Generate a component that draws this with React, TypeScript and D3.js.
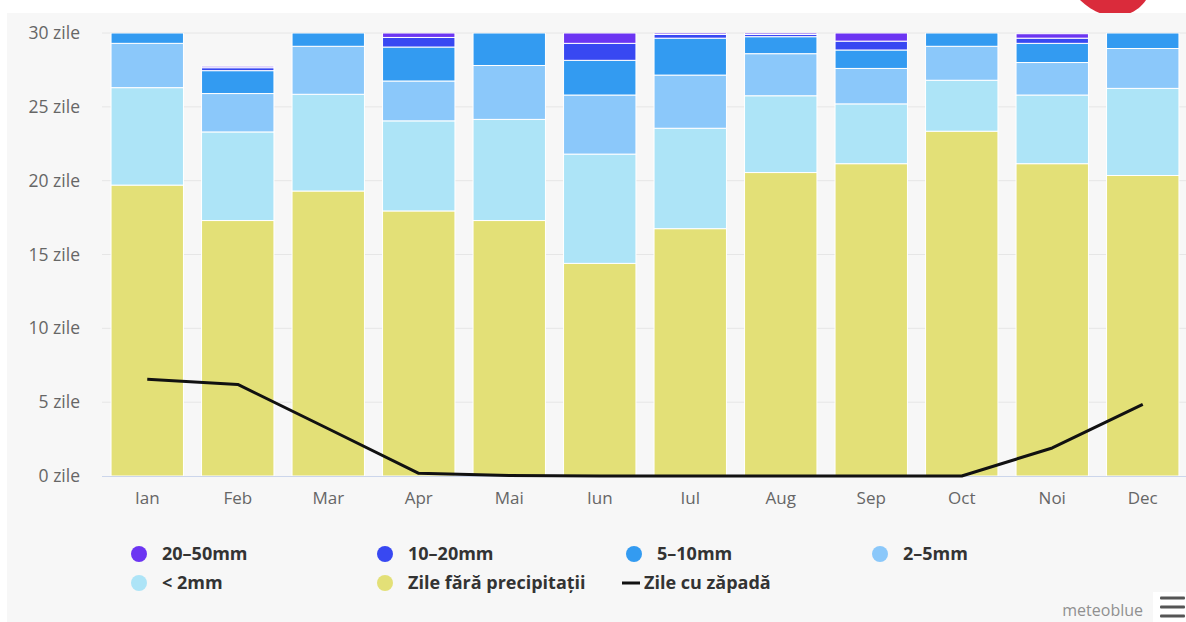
import React, { useEffect, useRef } from "react";
import * as d3 from "d3";

const months = ["Ian", "Feb", "Mar", "Apr", "Mai", "Iun", "Iul", "Aug", "Sep", "Oct", "Noi", "Dec"];

// zile / lună, de jos în sus
const dryDays = [19.7, 17.3, 19.3, 17.95, 17.3, 14.4, 16.75, 20.55, 21.15, 23.35, 21.15, 20.35];
const below2mm = [6.6, 6.0, 6.55, 6.1, 6.85, 7.4, 6.8, 5.2, 4.05, 3.45, 4.65, 5.9];
const mm2to5 = [3.0, 2.6, 3.25, 2.7, 3.65, 4.0, 3.6, 2.85, 2.4, 2.3, 2.2, 2.7];
const mm5to10 = [0.7, 1.55, 0.9, 2.3, 2.2, 2.35, 2.5, 1.15, 1.25, 0.9, 1.3, 1.05];
const mm10to20 = [0, 0.2, 0, 0.65, 0, 1.15, 0.25, 0.15, 0.6, 0, 0.35, 0];
const mm20to50 = [0, 0.1, 0, 0.3, 0, 0.7, 0.1, 0.1, 0.55, 0, 0.3, 0];
const snowDays = [6.55, 6.2, 3.2, 0.18, 0.03, 0, 0, 0, 0, 0, 1.9, 4.85];

const yTicks = [0, 5, 10, 15, 20, 25, 30];

const series = [
  { key: "dry", label: "Zile fără precipitații", color: "#e3e077", values: dryDays },
  { key: "lt2", label: "< 2mm", color: "#ade4f7", values: below2mm },
  { key: "2-5", label: "2–5mm", color: "#8bc8fa", values: mm2to5 },
  { key: "5-10", label: "5–10mm", color: "#339bf1", values: mm5to10 },
  { key: "10-20", label: "10–20mm", color: "#3848f2", values: mm10to20 },
  { key: "20-50", label: "20–50mm", color: "#6c35f2", values: mm20to50 },
];

// ordinea din legendă
const legendOrder = ["20-50", "10-20", "5-10", "2-5", "lt2", "dry", "snow"];

export default function App() {
  const ref = useRef<SVGSVGElement>(null);

  useEffect(() => {
    const svg = d3.select(ref.current);
    svg.selectAll("*").remove();

    const W = 1186;
    const H = 622;
    const left = 102;
    const right = 1188;
    const top = 33;
    const bottom = 476;

    // fundal
    svg.append("rect").attr("width", W).attr("height", H).attr("fill", "#ffffff");
    svg.append("rect").attr("x", 7).attr("y", 13).attr("width", W - 7).attr("height", H - 13).attr("fill", "#f7f7f7");

    // marker roșu sus
    svg
      .append("path")
      .attr("d", "M1080,0 L1146,0 C1142,6 1136,11 1128,14 L1102,14 C1094,11 1086,6 1080,0 Z")
      .attr("fill", "#da2b3b");
    svg.append("rect").attr("x", 7).attr("y", 13).attr("width", W - 7).attr("height", 3).attr("fill", "#f7f7f7");

    const x = d3.scaleBand().domain(months).range([left, right]).paddingInner(0.2).paddingOuter(0.1);
    const y = d3.scaleLinear().domain([0, 30]).range([bottom, top]);

    // grid
    svg
      .append("g")
      .selectAll("line")
      .data(yTicks.filter((t) => t > 0))
      .enter()
      .append("line")
      .attr("x1", left)
      .attr("x2", W)
      .attr("y1", (d) => y(d))
      .attr("y2", (d) => y(d))
      .attr("stroke", "#e6e6e6")
      .attr("stroke-width", 1);

    // axa y
    const yAxis = svg
      .append("g")
      .attr("transform", `translate(80,0)`)
      .call(
        d3
          .axisLeft(y)
          .tickValues(yTicks)
          .tickSize(0)
          .tickPadding(0)
          .tickFormat((d) => `${d} zile`)
      );
    yAxis.select(".domain").remove();
    yAxis
      .selectAll("text")
      .attr("fill", "#666666")
      .style("font-family", "'Open Sans', sans-serif")
      .style("font-size", "17.5px");

    // bare stivuite
    const rows = months.map((m, i) => {
      const r: any = { month: m };
      series.forEach((s) => (r[s.key] = s.values[i]));
      return r;
    });
    const stacked = d3.stack().keys(series.map((s) => s.key))(rows);

    svg
      .append("defs")
      .append("clipPath")
      .attr("id", "plot-clip")
      .append("rect")
      .attr("x", left)
      .attr("y", top)
      .attr("width", right - left)
      .attr("height", bottom - top);

    const bars = svg.append("g").attr("clip-path", "url(#plot-clip)");
    stacked.forEach((layer, li) => {
      bars
        .append("g")
        .attr("fill", series[li].color)
        .selectAll("rect")
        .data(layer)
        .enter()
        .filter((d) => d[1] - d[0] > 0)
        .append("rect")
        .attr("x", (d) => x(d.data.month as string)!)
        .attr("width", x.bandwidth())
        .attr("y", (d) => y(d[1]))
        .attr("height", (d) => y(d[0]) - y(d[1]))
        .attr("stroke", "#ffffff")
        .attr("stroke-width", 1);
    });

    // linia de bază
    svg
      .append("line")
      .attr("x1", left)
      .attr("x2", W)
      .attr("y1", bottom + 0.5)
      .attr("y2", bottom + 0.5)
      .attr("stroke", "#ccd6eb");

    // axa x
    const xAxis = svg
      .append("g")
      .attr("transform", `translate(0,${bottom + 16})`)
      .call(d3.axisBottom(x).tickSize(0).tickPadding(0));
    xAxis.select(".domain").remove();
    xAxis
      .selectAll("text")
      .attr("fill", "#666666")
      .style("font-family", "'Open Sans', sans-serif")
      .style("font-size", "17px");

    // zile cu zăpadă
    const line = d3
      .line<number>()
      .x((d, i) => x(months[i])! + x.bandwidth() / 2)
      .y((d) => y(d));
    svg
      .append("path")
      .datum(snowDays)
      .attr("d", line)
      .attr("fill", "none")
      .attr("stroke", "#111111")
      .attr("stroke-width", 3)
      .attr("stroke-linejoin", "round");

    // legenda
    const colX = [139, 385, 634, 880];
    const rowY = [554, 583];
    const legend = svg.append("g").style("font-family", "'Open Sans', sans-serif");
    legendOrder.forEach((key, i) => {
      const cx = colX[i % 4];
      const cy = rowY[Math.floor(i / 4)];
      const g = legend.append("g");
      if (key === "snow") {
        g.append("rect").attr("x", cx - 12).attr("y", cy - 1.5).attr("width", 18).attr("height", 3).attr("fill", "#111111");
        g.append("text")
          .attr("x", cx + 10)
          .attr("y", cy)
          .attr("dy", "0.35em")
          .attr("fill", "#333333")
          .style("font-size", "18px")
          .style("font-weight", "bold")
          .text("Zile cu zăpadă");
        return;
      }
      const s = series.find((d) => d.key === key)!;
      g.append("circle").attr("cx", cx).attr("cy", cy).attr("r", 8).attr("fill", s.color);
      g.append("text")
        .attr("x", cx + 23)
        .attr("y", cy)
        .attr("dy", "0.35em")
        .attr("fill", "#333333")
        .style("font-size", "18px")
        .style("font-weight", "bold")
        .text(s.label);
    });

    // credit + meniu
    svg
      .append("text")
      .attr("x", 1143)
      .attr("y", 610)
      .attr("dy", "0.35em")
      .attr("text-anchor", "end")
      .attr("fill", "#909090")
      .style("font-family", "'Open Sans', sans-serif")
      .style("font-size", "16px")
      .text("meteoblue");
    svg.append("rect").attr("x", 1153).attr("y", 592).attr("width", 33).attr("height", 30).attr("fill", "#ffffff");
    [598, 607, 616].forEach((yy) =>
      svg.append("rect").attr("x", 1160).attr("y", yy - 1.5).attr("width", 25).attr("height", 3).attr("rx", 1).attr("fill", "#555555")
    );
  }, []);

  return (
    <div style={{ position: "absolute", left: 0, top: 0, width: 1186, height: 622 }}>
      <svg ref={ref} width={1186} height={622} style={{ display: "block" }} />
    </div>
  );
}
